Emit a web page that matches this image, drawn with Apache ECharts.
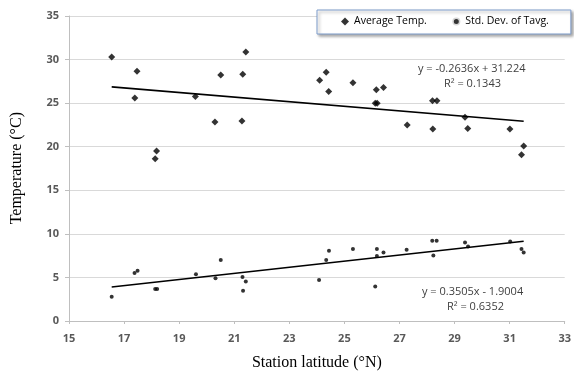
<!DOCTYPE html>
<html>
<head>
<meta charset="utf-8">
<script src="https://cdn.jsdelivr.net/npm/echarts@6/dist/echarts.min.js"></script>
<style>html,body{margin:0;padding:0;background:#fff;}#c{width:574px;height:376px;}</style>
</head>
<body>
<div id="c"></div>
<script>
// Average temperature by station latitude
var avgLat  = [16.55,17.47,17.39,18.18,18.13,19.59,20.30,20.51,21.31,21.42,21.28,24.10,24.34,24.43,25.31,26.16,26.42,26.12,26.19,27.28,28.20,28.36,28.21,29.38,29.48,31.01,31.51,31.43];
var avgTemp = [30.3,28.65,25.58,19.5,18.62,25.77,22.84,28.24,28.31,30.87,22.95,27.63,28.54,26.34,27.33,26.53,26.80,25.0,25.0,22.5,25.28,25.28,22.04,23.37,22.08,22.04,20.07,19.08];
// Std. dev. of Tavg by station latitude
var stdLat  = [16.55,17.38,17.49,18.13,18.20,19.61,20.32,20.51,21.30,21.42,21.32,24.08,24.34,24.44,25.31,26.18,26.18,26.42,26.12,27.26,28.19,28.35,28.23,29.38,29.49,31.02,31.43,31.51];
var stdVal  = [2.77,5.51,5.78,3.68,3.68,5.36,4.90,7.0,5.05,4.52,3.46,4.71,7.0,8.06,8.25,8.25,7.45,7.87,3.95,8.17,9.2,9.2,7.53,9.0,8.55,9.12,8.25,7.87];
// Linear trend coefficients [avg, std]
var trendSlope = [-0.2636, 0.3505];
var trendIntercept = [31.224, -1.9004];
var trendText = [["y = -0.2636x + 31.224","R\u00B2 = 0.1343"],["y = 0.3505x - 1.9004","R\u00B2 = 0.6352"]];
var seriesNames = ["Average Temp.","Std. Dev. of Tavg."];

function pairs(xs, ys){ return xs.map(function(x,i){ return [x, ys[i]]; }); }
function trend(xs, k){
  var lo = Math.min.apply(null, xs), hi = Math.max.apply(null, xs);
  return [[lo, trendSlope[k]*lo + trendIntercept[k]], [hi, trendSlope[k]*hi + trendIntercept[k]]];
}

var chart = echarts.init(document.getElementById('c'));
var tickFont = {color:'#595959', fontSize:11, fontFamily:'Open Sans', fontWeight:'bold'};
var eqStyle = function(t, x, y){
  return {type:'text', left:x, top:y, z:100,
    style:{text:t, fill:'#404040', font:'11px "Open Sans"', backgroundColor:'#fff', padding:[0,2]}};
};
chart.setOption({
  animation:false,
  grid:{left:69, right:3, top:16, bottom:53},
  xAxis:{type:'value', min:15, max:33, interval:2,
    name:'Station latitude (\u00B0N)', nameLocation:'middle', nameGap:34,
    nameTextStyle:{fontFamily:'Liberation Serif', fontSize:16, color:'#000'},
    axisLine:{lineStyle:{color:'#bfbfbf'}},
    axisTick:{show:true, length:3, lineStyle:{color:'#bfbfbf'}},
    axisLabel:Object.assign({margin:12}, tickFont),
    splitLine:{show:false}},
  yAxis:{type:'value', min:0, max:35, interval:5,
    axisLine:{show:true, lineStyle:{color:'#bfbfbf'}},
    axisTick:{show:true, length:4, lineStyle:{color:'#bfbfbf'}},
    axisLabel:Object.assign({margin:10}, tickFont),
    splitLine:{lineStyle:{color:'#d9d9d9'}}},
  legend:{left:317, top:10, width:245, orient:'horizontal',
    padding:[6,22,7,24], itemGap:24, itemWidth:8, itemHeight:8,
    backgroundColor:'#fff', borderColor:'#7d9ccb', borderWidth:1,
    shadowColor:'rgba(0,0,0,0.35)', shadowBlur:3, shadowOffsetX:2, shadowOffsetY:2,
    textStyle:{fontFamily:'Open Sans', fontSize:10.5, color:'#000'},
    data:[{name:seriesNames[0], icon:'diamond'},
          {name:seriesNames[1], icon:'circle', itemStyle:{borderColor:'#fff', borderWidth:3}}]},
  graphic:[
    {type:'text', left:9, top:112, rotation:Math.PI/2, z:100,
      style:{text:'Temperature (\u00B0C)', fill:'#000', font:'16px "Liberation Serif"'}},
    eqStyle(trendText[0][0], 416, 63),
    eqStyle(trendText[0][1], 442, 78),
    eqStyle(trendText[1][0], 420, 286),
    eqStyle(trendText[1][1], 445, 301)
  ],
  series:[
    {name:seriesNames[0], type:'scatter', symbol:'diamond', symbolSize:7,
      itemStyle:{color:'#000'}, data:pairs(avgLat, avgTemp), z:3},
    {name:seriesNames[1], type:'scatter', symbol:'circle', symbolSize:4,
      itemStyle:{color:'#000'}, data:pairs(stdLat, stdVal), z:3},
    {type:'line', data:trend(avgLat,0), symbol:'none', lineStyle:{color:'#000', width:1.6}, z:2, silent:true},
    {type:'line', data:trend(stdLat,1), symbol:'none', lineStyle:{color:'#000', width:1.6}, z:2, silent:true}
  ]
});
</script>
</body>
</html>
